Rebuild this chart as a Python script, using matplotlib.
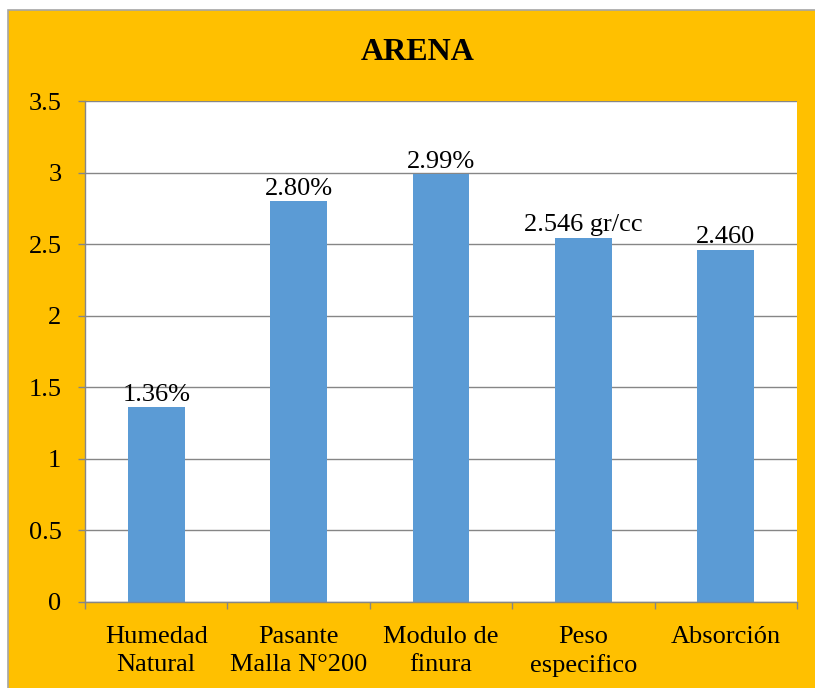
import matplotlib.pyplot as plt
import numpy as np
from matplotlib.patches import Rectangle

categorias = ['Humedad\nNatural', 'Pasante\nMalla N°200', 'Modulo de\nfinura',
              'Peso\nespecifico', 'Absorción']
valores = [1.36, 2.80, 2.99, 2.546, 2.460]
etiquetas = ['1.36%', '2.80%', '2.99%', '2.546 gr/cc', '2.460']
yticks = [0, 0.5, 1, 1.5, 2, 2.5, 3, 3.5]
ytick_labels = ['0', '0.5', '1', '1.5', '2', '2.5', '3', '3.5']

plt.rcParams['font.family'] = ['Liberation Serif', 'DejaVu Serif']

W, H = 815, 688
fig = plt.figure(figsize=(W / 100, H / 100), dpi=100, facecolor='white')

# marco naranja del grafico
fig.patches.append(Rectangle((8 / W, -0.05), 1.1, 1 - 10 / H + 0.05,
                             transform=fig.transFigure, facecolor='#FFC000',
                             edgecolor='#A6A6A6', linewidth=1.2, zorder=-10))

ax = fig.add_axes([85 / W, 1 - 602 / H, (797 - 85) / W, (602 - 101) / H])
ax.set_facecolor('white')

x = np.arange(len(categorias))
bars = ax.bar(x, valores, width=0.40, color='#5B9BD5', zorder=3)

for b, txt in zip(bars, etiquetas):
    ax.annotate(txt, (b.get_x() + b.get_width() / 2, b.get_height()),
                xytext=(0, 1), textcoords='offset points',
                ha='center', va='bottom', fontsize=19, zorder=4)

ax.set_xlim(-0.5, len(categorias) - 0.5)
ax.set_ylim(0, 3.5)
ax.set_yticks(yticks)
ax.set_yticklabels(ytick_labels, fontsize=19)
ax.set_xticks(x)
ax.set_xticklabels(categorias, fontsize=19, linespacing=1.35)
ax.set_xticks(np.arange(-0.5, len(categorias)), minor=True)

ax.tick_params(axis='x', which='major', length=0, pad=17)
ax.tick_params(axis='x', which='minor', length=5, color='#868686', width=1)
ax.tick_params(axis='y', length=5, color='#868686', width=1, pad=12)

ax.yaxis.grid(True, color='#868686', linewidth=1)
ax.set_axisbelow(True)
for s in ['top', 'right']:
    ax.spines[s].set_visible(False)
for s in ['left', 'bottom']:
    ax.spines[s].set_color('#868686')
    ax.spines[s].set_linewidth(1)
    ax.spines[s].set_zorder(5)

fig.text(418 / W, 1 - 52 / H, 'ARENA', ha='center', va='center',
         fontsize=23, fontweight='bold')

fig.savefig('out.png', dpi=100)
